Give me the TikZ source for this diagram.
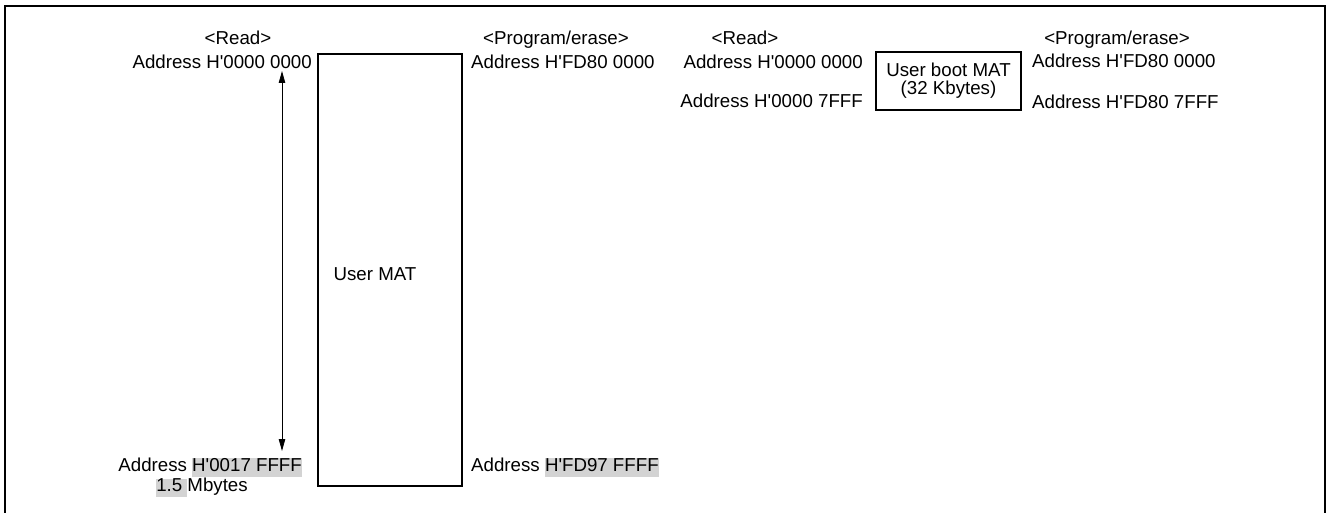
\documentclass[tikz,border=0pt]{standalone}
\usepackage{fontspec}
\setmainfont{Liberation Sans}[Ligatures=TeXOff]
\usetikzlibrary{arrows.meta}
\definecolor{hl}{RGB}{211,211,211}
\newcommand\hlx[1]{{\setlength{\fboxsep}{0pt}\colorbox{hl}{\strut #1}}}
\begin{document}
\begin{tikzpicture}[x=1pt,y=-1pt,
  lbl/.style={inner sep=0pt, font=\fontsize{18.7}{18}\selectfont},
  membox/.style={draw, line width=1.8pt, font=\fontsize{18.7}{18}\selectfont, align=center},
  dim/.style={line width=0.8pt, {Triangle[length=12pt,width=6.5pt]}-{Triangle[length=12pt,width=6.5pt]}}
]
\useasboundingbox (0,0) rectangle (1327,513);
\clip (0,0) rectangle (1327,513);
\draw[line width=2pt] (5,530) -- (5,6) -- (1325,6) -- (1325,530);

% left diagram
\node[lbl, anchor=base] (lread) at (238,44.5) {<Read>};
\node[lbl, anchor=base] (lprog) at (556,44.5) {<Program/erase>};
\node[lbl, anchor=base east] (la0) at (312,68.5) {Address H'0000 0000};
\node[lbl, anchor=base west] (lp0) at (471,68.5) {Address H'FD80 0000};
\node[membox, minimum width=144pt, minimum height=432pt] (um) at (390,270) {};
\node[lbl] (umt) at (375,274) {User MAT};
\node[lbl, anchor=base east] (la1) at (302,471.5) {Address \hlx{H'0017 FFFF}};
\node[lbl, anchor=base] (lsz) at (202,491.5) {\hlx{1.5 }Mbytes};
\node[lbl, anchor=base west] (lp1) at (471,471.5) {Address \hlx{H'FD97 FFFF}};
\coordinate (atop) at (282,71);
\coordinate (abot) at (282,451);
\draw[dim] (atop) -- (abot);

% right diagram
\node[lbl, anchor=base] (rread) at (745,44.5) {<Read>};
\node[lbl, anchor=base] (rprog) at (1117,44.5) {<Program/erase>};
\node[lbl, anchor=base east] (ra0) at (863,68.5) {Address H'0000 0000};
\node[lbl, anchor=base east] (ra1) at (863,107.5) {Address H'0000 7FFF};
\node[membox, minimum width=145pt, minimum height=58pt, inner sep=0pt] (ub) at (948.5,81) {User boot MAT\\(32 Kbytes)};
\node[lbl, anchor=base west] (rp0) at (1032,67.5) {Address H'FD80 0000};
\node[lbl, anchor=base west] (rp1) at (1032,108.5) {Address H'FD80 7FFF};
\end{tikzpicture}
\end{document}
